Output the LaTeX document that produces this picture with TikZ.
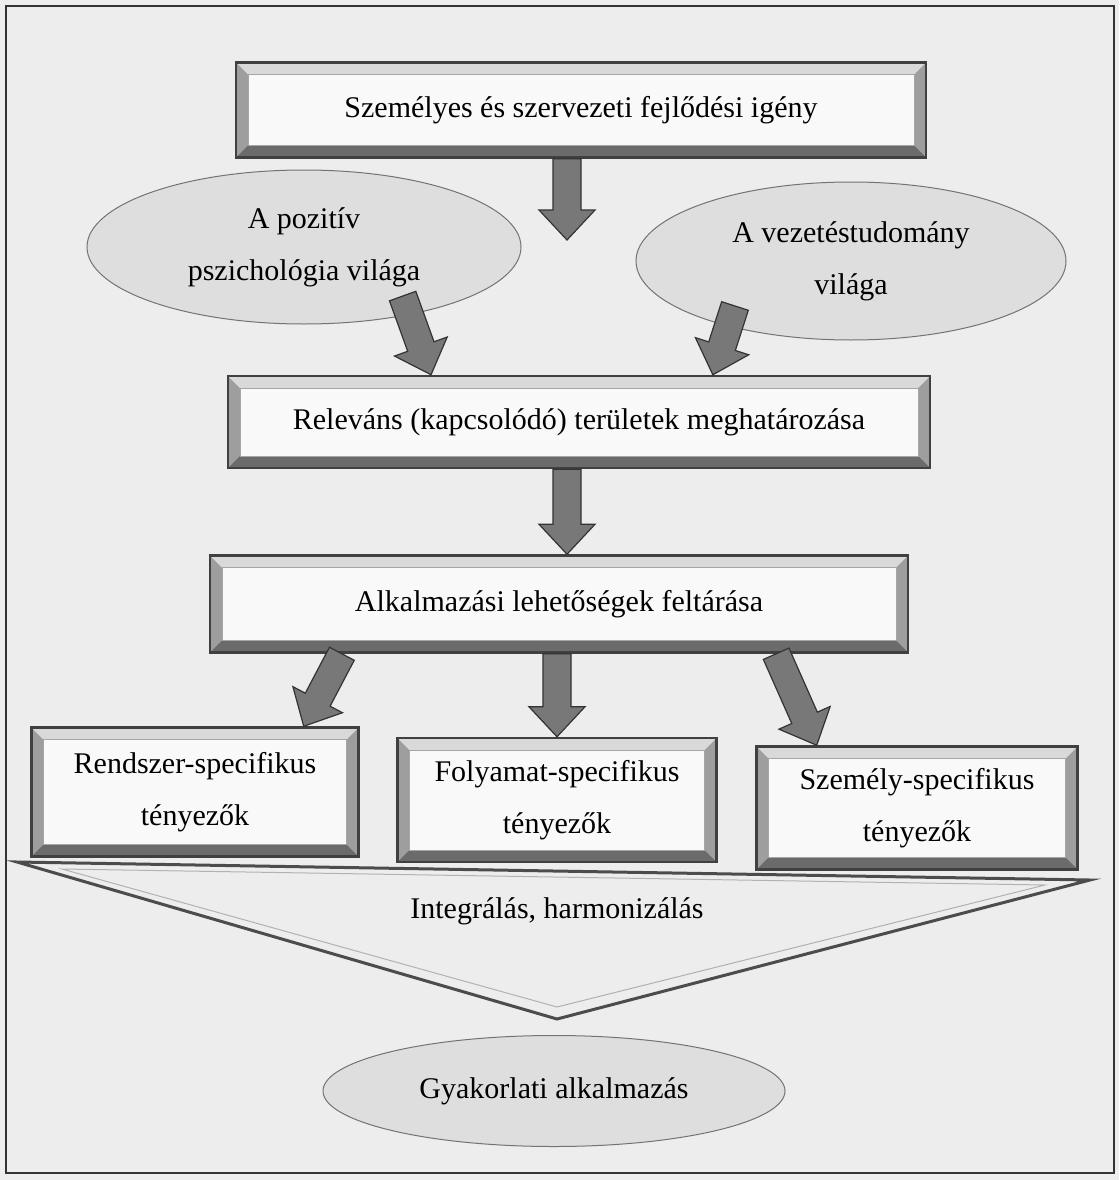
\documentclass[tikz,border=0pt]{standalone}
\usepackage{fontspec}
\setmainfont{Liberation Serif}
\usepackage{tikz}
\usetikzlibrary{positioning, calc, shapes.geometric}

\definecolor{paper}{gray}{0.93}
\definecolor{boxwhite}{gray}{0.975}
\definecolor{arrowgray}{gray}{0.47}

\newcommand{\diafont}{\fontsize{30}{52}\selectfont}
\newcommand{\fatarrow}[2]{%
	\coordinate (fa neck) at ($(#2)!30pt!(#1)$);
	\draw[fat arrow] ($(#1)!14pt!90:(#2)$) -- ($(fa neck)!14pt!90:(#2)$) -- ($(fa neck)!28pt!90:(#2)$) -- (#2) -- ($(fa neck)!28pt!-90:(#2)$) -- ($(fa neck)!14pt!-90:(#2)$) -- ($(#1)!14pt!-90:(#2)$) -- cycle;}

\tikzset{
	bevelbox/.style={draw=black!75, line width=2.5pt, inner sep=0pt, align=center, font=\diafont,
		path picture={
			\fill[black!38] (path picture bounding box.south west) rectangle (path picture bounding box.north east);
			\fill[black!15] (path picture bounding box.north west) -- (path picture bounding box.north east) -- ([shift={(-12pt,-12pt)}]path picture bounding box.north east) -- ([shift={(12pt,-12pt)}]path picture bounding box.north west) -- cycle;
			\fill[black!58] (path picture bounding box.south west) -- (path picture bounding box.south east) -- ([shift={(-12pt,12pt)}]path picture bounding box.south east) -- ([shift={(12pt,12pt)}]path picture bounding box.south west) -- cycle;
			\filldraw[fill=boxwhite, draw=black!35, line width=0.8pt] ([shift={(12pt,-12pt)}]path picture bounding box.north west) rectangle ([shift={(-12pt,12pt)}]path picture bounding box.south east);
		}},
	world/.style={ellipse, draw=black!55, line width=1pt, fill=black!13, inner sep=0pt, align=center, font=\diafont},
	fat arrow/.style={draw=black!80, line width=1.2pt, fill=arrowgray, line join=miter}
}

\begin{document}
\begin{tikzpicture}[x=1pt, y=-1pt]
	\useasboundingbox (0,0) rectangle (1119,1180);
	\fill[paper] (0,0) rectangle (1119,1180);
	\draw[black!80, line width=1.6pt] (6,6) rectangle (1114,1173);

	\node[bevelbox, minimum width=690pt, minimum height=95pt] (igeny) at (581,110) {Személyes és szervezeti fejlődési igény};
	\node[world, minimum width=434pt, minimum height=154pt] (pozitiv) at (304,247) {A pozitív\\pszichológia világa};
	\node[world, minimum width=430pt, minimum height=158pt] (vezetes) at (851,261) {A vezetéstudomány\\világa};
	\node[bevelbox, minimum width=702pt, minimum height=92pt] (relevans) at (579,422) {Releváns (kapcsolódó) területek meghatározása};
	\node[bevelbox, minimum width=698pt, minimum height=97pt] (feltaras) at (559,604) {Alkalmazási lehetőségek feltárása};
	\node[bevelbox, minimum width=327pt, minimum height=129pt] (rendszer) at (195,792) {Rendszer-specifikus\\tényezők};
	\node[bevelbox, minimum width=319pt, minimum height=124pt] (folyamat) at (557,800) {Folyamat-specifikus\\tényezők};
	\node[bevelbox, minimum width=321pt, minimum height=123pt] (szemely) at (917,808) {Személy-specifikus\\tényezők};

	\coordinate (tri a) at (17,862);
	\coordinate (tri b) at (1090,880);
	\coordinate (tri c) at (557,1019);
	\draw[black!70, line width=3pt, line join=miter] (tri a) -- (tri b) -- (tri c) -- cycle;
	\draw[black!30, line width=1pt] (62,869) -- (1045,885) -- (557,1007) -- cycle;
	\node[font=\diafont] (integral) at (557,911) {Integrálás, harmonizálás};

	\node[world, minimum width=462pt, minimum height=111pt] (gyakorlat) at (554,1091) {Gyakorlati alkalmazás};

	\coordinate (kozep) at (567,240);
	\coordinate (kozep ki) at (igeny.south -| kozep);
	\fatarrow{kozep ki}{kozep}
	\coordinate (poz ki) at ([yshift=20pt]pozitiv.-35);
	\coordinate (vez ki) at ([yshift=22pt]vezetes.-150);
	\coordinate (rel bal) at ($(relevans.north west)!0.29!(relevans.north east)$);
	\coordinate (rel jobb) at ($(relevans.north west)!0.69!(relevans.north east)$);
	\fatarrow{poz ki}{rel bal}
	\fatarrow{vez ki}{rel jobb}
	\coordinate (rel ki) at (relevans.south -| kozep);
	\coordinate (felt be) at (feltaras.north -| kozep);
	\fatarrow{rel ki}{felt be}
	\coordinate (felt bal) at ($(feltaras.south west)!0.19!(feltaras.south east)$);
	\coordinate (felt jobb) at ($(feltaras.south west)!0.81!(feltaras.south east)$);
	\coordinate (felt kozep) at (feltaras.south -| folyamat);
	\coordinate (rendszer be) at ($(rendszer.north west)!0.83!(rendszer.north east)$);
	\coordinate (szemely be) at ($(szemely.north west)!0.19!(szemely.north east)$);
	\fatarrow{felt bal}{rendszer be}
	\fatarrow{felt kozep}{folyamat.north}
	\fatarrow{felt jobb}{szemely be}
\end{tikzpicture}
\end{document}
